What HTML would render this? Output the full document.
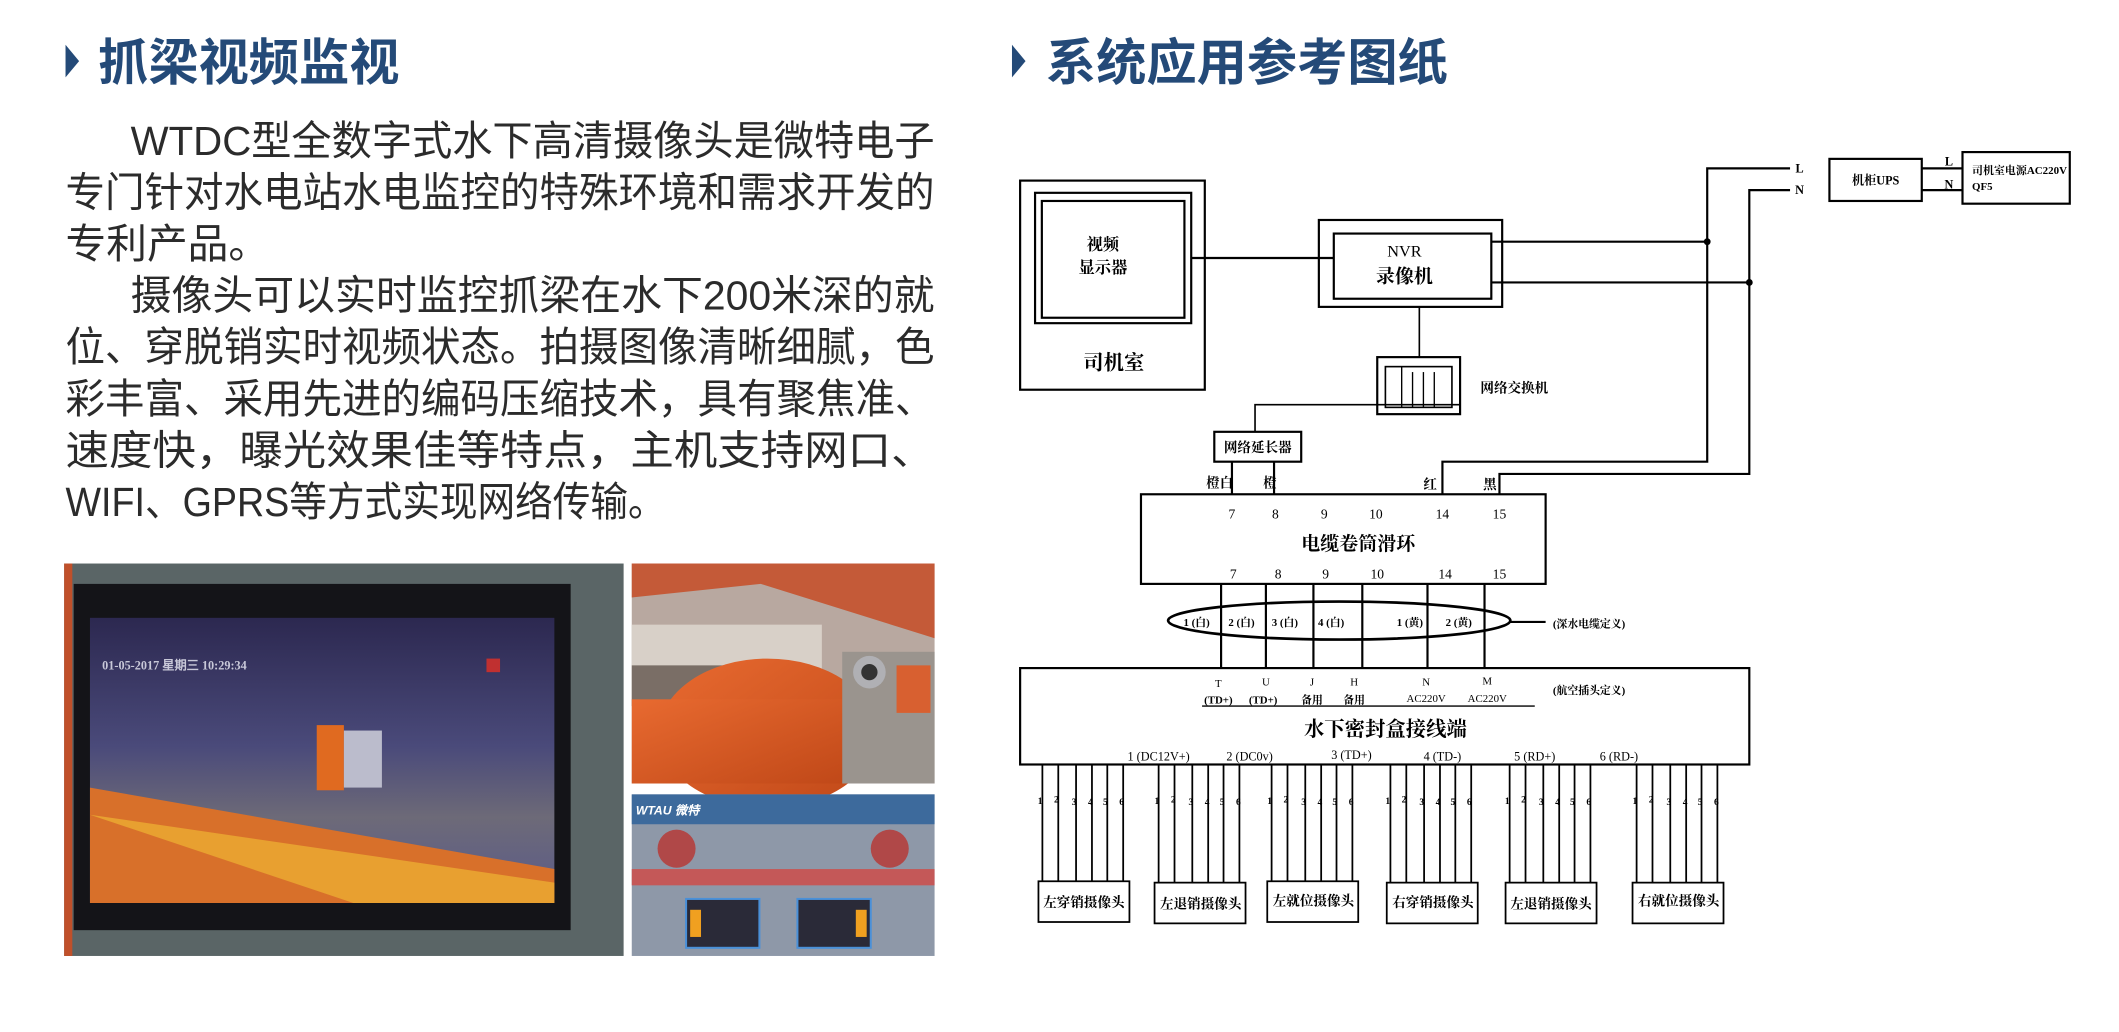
<!DOCTYPE html>
<html><head><meta charset="utf-8">
<style>
html,body{margin:0;padding:0;background:#fff;}
svg{display:block;}
.h{font-family:"Noto Sans CJK SC","Liberation Sans",sans-serif;font-weight:700;fill:#244a78;}
.p{font-family:"Liberation Sans","Noto Sans CJK SC",sans-serif;fill:#2b2b2b;font-size:30px;}
.d{font-family:"Liberation Serif","Noto Serif CJK SC","Noto Sans CJK SC",serif;font-weight:700;fill:#000;}
</style></head><body>
<svg width="2119" height="1032" viewBox="0 0 1560 760" xmlns="http://www.w3.org/2000/svg">
<defs>
<linearGradient id="scr" x1="0" y1="0" x2="0" y2="1">
<stop offset="0" stop-color="#2c2850"/><stop offset="0.45" stop-color="#4a4a7a"/><stop offset="0.7" stop-color="#6d6a78"/><stop offset="1" stop-color="#5a5a8a"/></linearGradient>
<linearGradient id="or" x1="0" y1="0" x2="1" y2="1"><stop offset="0" stop-color="#e86a30"/><stop offset="1" stop-color="#c04818"/></linearGradient>
</defs>
<!-- headings -->
<polygon points="48,33 58,45 48,57" fill="#244a78"/>
<text class="h" x="72" y="59" font-size="37">抓梁视频监视</text>
<polygon points="745,33 755,45 745,57" fill="#244a78"/>
<text class="h" x="770" y="59" font-size="37">系统应用参考图纸</text>
<!-- paragraph -->
<g class="p">
<text x="96" y="114" textLength="592" lengthAdjust="spacingAndGlyphs">WTDC型全数字式水下高清摄像头是微特电子</text>
<text x="48" y="152" textLength="640" lengthAdjust="spacingAndGlyphs">专门针对水电站水电监控的特殊环境和需求开发的</text>
<text x="48" y="190">专利产品。</text>
<text x="96" y="228" textLength="592" lengthAdjust="spacingAndGlyphs">摄像头可以实时监控抓梁在水下200米深的就</text>
<text x="48" y="266" textLength="640" lengthAdjust="spacingAndGlyphs">位、穿脱销实时视频状态。拍摄图像清晰细腻，色</text>
<text x="48" y="304" textLength="640" lengthAdjust="spacingAndGlyphs">彩丰富、采用先进的编码压缩技术，具有聚焦准、</text>
<text x="48" y="342" textLength="640" lengthAdjust="spacingAndGlyphs">速度快，曝光效果佳等特点，主机支持网口、</text>
<text x="48" y="380" textLength="442" lengthAdjust="spacingAndGlyphs">WIFI、GPRS等方式实现网络传输。</text>
</g>
<!-- photo 1 -->
<rect x="47" y="415" width="412" height="289" fill="#5a6566"/>
<rect x="47" y="415" width="6" height="289" fill="#c0502a"/>
<rect x="54" y="430" width="366" height="255" fill="#141418"/>
<rect x="66" y="455" width="342" height="210" fill="url(#scr)"/>
<polygon points="66,580 408,640 408,665 66,665" fill="#d8702a"/>
<polygon points="66,600 408,650 408,665 260,665" fill="#e8a030"/>
<rect x="233" y="534" width="20" height="48" fill="#e06a20"/>
<rect x="253" y="538" width="28" height="42" fill="#bbbccc"/>
<text x="75" y="493" font-family="Liberation Serif" font-size="9" fill="#c8c8d8" font-weight="700">01-05-2017 星期三 10:29:34</text>
<rect x="358" y="485" width="10" height="10" fill="#c03030"/>
<!-- photo 2 -->
<rect x="465" y="415" width="223" height="162" fill="#b8a8a0"/>
<polygon points="465,415 688,415 688,470 560,430 465,440" fill="#c45a38"/>
<rect x="465" y="460" width="140" height="40" fill="#d8d0c8"/>
<rect x="465" y="490" width="120" height="30" fill="#7a6e66"/>
<ellipse cx="565" cy="540" rx="80" ry="55" fill="url(#or)"/>
<rect x="465" y="515" width="160" height="62" fill="url(#or)"/>
<rect x="620" y="480" width="68" height="97" fill="#9a948e"/>
<circle cx="640" cy="495" r="12" fill="#b0b0b4"/><circle cx="640" cy="495" r="6" fill="#333"/>
<rect x="660" y="490" width="25" height="35" fill="#d86030"/>
<!-- photo 3 -->
<rect x="465" y="585" width="223" height="119" fill="#8e98a8"/>
<rect x="465" y="585" width="223" height="22" fill="#3d6a9c"/>
<text x="468" y="600" font-family="Liberation Sans" font-size="9" fill="#fff" font-weight="700" font-style="italic">WTAU 微特</text>
<rect x="465" y="640" width="223" height="12" fill="#c45858"/>
<circle cx="498" cy="625" r="14" fill="#b04848"/><circle cx="655" cy="625" r="14" fill="#b04848"/>
<rect x="505" y="662" width="54" height="36" fill="#2a2a38" stroke="#4a90d8" stroke-width="1.5"/>
<rect x="587" y="662" width="54" height="36" fill="#2a2a38" stroke="#4a90d8" stroke-width="1.5"/>
<rect x="508" y="670" width="8" height="20" fill="#f0a020"/><rect x="630" y="670" width="8" height="20" fill="#f0a020"/>

<!-- DIAGRAM -->
<g fill="none" stroke="#000" stroke-width="1.6">
<rect x="751" y="133" width="136" height="154"/>
<rect x="762" y="142" width="115" height="96"/>
<rect x="767" y="148" width="105" height="86"/>
<rect x="971" y="162" width="135" height="64"/>
<rect x="982" y="172" width="116" height="48"/>
<line x1="877" y1="190" x2="982" y2="190"/>
<line x1="1098" y1="178" x2="1257" y2="178"/>
<line x1="1098" y1="208" x2="1288" y2="208"/>
<polyline points="1318,124 1257,124 1257,340 1062,340 1062,364"/>
<polyline points="1318,140 1288,140 1288,349 1104,349 1104,364"/>
<rect x="1347" y="117" width="68" height="31"/>
<line x1="1415" y1="124" x2="1445" y2="124"/>
<line x1="1415" y1="140" x2="1445" y2="140"/>
<rect x="1445" y="112" width="79" height="38"/>
<line x1="1045" y1="226" x2="1045" y2="263" stroke-width="1.2"/>
<rect x="1014" y="263" width="61" height="42"/>
<rect x="1020" y="270" width="49" height="30" stroke-width="1.2"/>
<line x1="1032" y1="270" x2="1032" y2="300" stroke-width="1"/>
<line x1="1040" y1="274" x2="1040" y2="300" stroke-width="1"/>
<line x1="1048" y1="274" x2="1048" y2="300" stroke-width="1"/>
<line x1="1056" y1="274" x2="1056" y2="300" stroke-width="1"/>
<polyline points="1075,298 924,298 924,318" stroke-width="1.2"/>
<rect x="894" y="318" width="64" height="22"/>
<line x1="907" y1="340" x2="907" y2="364"/>
<line x1="938" y1="340" x2="938" y2="364"/>
<rect x="840" y="364" width="298" height="66"/>
<line x1="899" y1="430" x2="899" y2="492"/>
<line x1="932" y1="430" x2="932" y2="492"/>
<line x1="967" y1="430" x2="967" y2="492"/>
<line x1="1003" y1="430" x2="1003" y2="492"/>
<line x1="1051" y1="430" x2="1051" y2="492"/>
<line x1="1093" y1="430" x2="1093" y2="492"/>
<ellipse cx="986" cy="457" rx="126" ry="14" stroke-width="2"/>
<line x1="1112" y1="458" x2="1138" y2="458"/>
<rect x="751" y="492" width="537" height="71"/>
<line x1="885" y1="520" x2="1130" y2="520" stroke-width="1"/>
</g>
<circle cx="1257" cy="178" r="2.5"/><circle cx="1288" cy="208" r="2.5"/>
<g class="d" text-anchor="middle" font-size="12">
<text x="812" y="184">视频</text><text x="812" y="201">显示器</text>
<text x="820" y="272" font-size="15">司机室</text>
<text x="1034" y="189" font-weight="400">NVR</text><text x="1034" y="208" font-size="14">录像机</text>
<text x="1325" y="127" font-size="9">L</text><text x="1325" y="143" font-size="9">N</text>
<text x="1381" y="136" font-size="9">机柜UPS</text>
<text x="1435" y="122" font-size="9">L</text><text x="1435" y="139" font-size="9">N</text>
<text x="1452" y="128" font-size="8" text-anchor="start" textLength="70" lengthAdjust="spacingAndGlyphs">司机室电源AC220V</text>
<text x="1452" y="140" font-size="8" text-anchor="start">QF5</text>
<text x="1090" y="289" font-size="10" text-anchor="start">网络交换机</text>
<text x="926" y="333" font-size="10">网络延长器</text>
<text x="898" y="359" font-size="10">橙白</text><text x="935" y="359" font-size="10">橙</text>
<text x="1053" y="360" font-size="10">红</text><text x="1097" y="360" font-size="10">黑</text>
<g font-size="10" font-weight="400">
<text x="907" y="382">7</text><text x="939" y="382">8</text><text x="975" y="382">9</text><text x="1013" y="382">10</text><text x="1062" y="382">14</text><text x="1104" y="382">15</text>
<text x="908" y="426">7</text><text x="941" y="426">8</text><text x="976" y="426">9</text><text x="1014" y="426">10</text><text x="1064" y="426">14</text><text x="1104" y="426">15</text>
</g>
<text x="1000" y="405" font-size="14">电缆卷筒滑环</text>
<g font-size="8">
<text x="881" y="461">1 (白)</text><text x="914" y="461">2 (白)</text><text x="946" y="461">3 (白)</text><text x="980" y="461">4 (白)</text><text x="1038" y="461">1 (黄)</text><text x="1074" y="461">2 (黄)</text>
<text x="1170" y="462">(深水电缆定义)</text>
<text x="897" y="506" font-weight="400">T</text><text x="897" y="518">(TD+)</text>
<text x="932" y="505" font-weight="400">U</text><text x="930" y="518">(TD+)</text>
<text x="966" y="505" font-weight="400">J</text><text x="966" y="518">备用</text>
<text x="997" y="505" font-weight="400">H</text><text x="997" y="518">备用</text>
<text x="1050" y="505" font-weight="400">N</text><text x="1050" y="517" font-weight="400">AC220V</text>
<text x="1095" y="504" font-weight="400">M</text><text x="1095" y="517" font-weight="400">AC220V</text>
<text x="1170" y="511">(航空插头定义)</text>
<g font-weight="400" font-size="9">
<text x="853" y="560">1 (DC12V+)</text><text x="920" y="560">2 (DC0v)</text><text x="995" y="559">3 (TD+)</text><text x="1062" y="560">4 (TD-)</text><text x="1130" y="560">5 (RD+)</text><text x="1192" y="560">6 (RD-)</text>
</g>
</g>
<text x="1020" y="542" font-size="15">水下密封盒接线端</text>
</g>
<!-- camera groups -->
<g>
<g fill="none" stroke="#000" stroke-width="1.3">
<path d="M767.4 563V649M779.1 563V649M792.2 563V649M803.9 563V649M815.2 563V649M826.9 563V649"/>
<path d="M853 563V650M864.7 563V650M877.8 563V650M889.5 563V650M900.8 563V650M912.5 563V650"/>
<path d="M936.2 563V649M947.9 563V649M961 563V649M972.7 563V649M984 563V649M995.7 563V649"/>
<path d="M1023.7 563V650M1035.4 563V650M1048.5 563V650M1060.2 563V650M1071.5 563V650M1083.2 563V650"/>
<path d="M1111.5 563V650M1123.2 563V650M1136.3 563V650M1148 563V650M1159.3 563V650M1171 563V650"/>
<path d="M1205 563V650M1216.7 563V650M1229.8 563V650M1241.5 563V650M1252.8 563V650M1264.5 563V650"/>
<rect x="764.5" y="649" width="67" height="30"/>
<rect x="850" y="650" width="67" height="30"/>
<rect x="933" y="649" width="67" height="30"/>
<rect x="1021" y="650" width="67" height="30"/>
<rect x="1108.5" y="650" width="67" height="30"/>
<rect x="1202" y="650" width="67" height="30"/>
</g>
<g class="d" font-size="7" font-weight="400">
<text x="764" y="592">1</text><text x="776" y="591">2</text><text x="789" y="593">3</text><text x="801" y="593">4</text><text x="812" y="593">5</text><text x="824" y="593">6</text>
<text x="850" y="592">1</text><text x="862" y="591">2</text><text x="875" y="593">3</text><text x="887" y="593">4</text><text x="898" y="593">5</text><text x="910" y="593">6</text>
<text x="933" y="592">1</text><text x="945" y="591">2</text><text x="958" y="593">3</text><text x="970" y="593">4</text><text x="981" y="593">5</text><text x="993" y="593">6</text>
<text x="1020" y="592">1</text><text x="1032" y="591">2</text><text x="1045" y="593">3</text><text x="1057" y="593">4</text><text x="1068" y="593">5</text><text x="1080" y="593">6</text>
<text x="1108" y="592">1</text><text x="1120" y="591">2</text><text x="1133" y="593">3</text><text x="1145" y="593">4</text><text x="1156" y="593">5</text><text x="1168" y="593">6</text>
<text x="1202" y="592">1</text><text x="1214" y="591">2</text><text x="1227" y="593">3</text><text x="1239" y="593">4</text><text x="1250" y="593">5</text><text x="1262" y="593">6</text>
</g>
<g class="d" font-size="10" text-anchor="middle">
<text x="798" y="668">左穿销摄像头</text>
<text x="884" y="669">左退销摄像头</text>
<text x="967" y="667">左就位摄像头</text>
<text x="1055" y="668">右穿销摄像头</text>
<text x="1142" y="669">左退销摄像头</text>
<text x="1236" y="667">右就位摄像头</text>
</g>
</g>
</svg>
</body></html>
